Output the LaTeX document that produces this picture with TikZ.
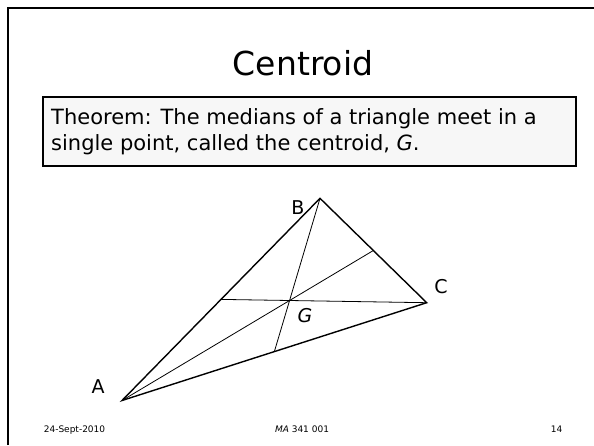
\documentclass[tikz,border=0pt]{standalone}
\usepackage{fontspec}
\setmainfont{DejaVu Sans}
\usetikzlibrary{calc}
\tikzset{
  side/.style={line width=1.4pt},
  median/.style={line width=0.8pt},
  lbl/.style={inner sep=0pt, font=\fontsize{19}{22}\selectfont},
  thm/.style={anchor=base west, inner sep=0pt, font=\fontsize{21}{24}\selectfont},
  foot/.style={inner sep=0pt, anchor=base, font=\fontsize{9}{11}\selectfont},
}
\begin{document}
\begin{tikzpicture}[x=1pt,y=-1pt]
\useasboundingbox (0,0) rectangle (594,445);
% slide frame
\draw[line width=2.5pt] (8,445) -- (8,8) -- (594,8);
% title
\node[inner sep=0pt, anchor=base, font=\fontsize{33}{38}\selectfont] (title) at (303,75) {Centroid};
% theorem box
\node[draw, line width=1.2pt, fill=black!3, minimum width=533pt, minimum height=69pt, inner sep=0pt] (box) at (309.5,131.5) {};
\node[thm] (l1) at (51,124) {Theorem: The medians of a triangle meet in a};
\node[thm] (l2) at (51,150) {single point, called the centroid, \textit{G}.};
% triangle
\coordinate (A) at (122,400.5);
\coordinate (B) at (320,198.3);
\coordinate (C) at (426.7,302.7);
\coordinate (Mab) at ($(A)!0.5!(B)$);
\coordinate (Mbc) at ($(B)!0.5!(C)$);
\coordinate (Mac) at ($(A)!0.5!(C)$);
\draw[side, line join=miter] (A) -- (B) -- (C) -- cycle;
\draw[median] (A) -- (Mbc);
\draw[median] (B) -- (Mac);
\draw[median] (C) -- (Mab);
\node[lbl] (la) at (98,387) {A};
\node[lbl] (lb) at (298,208) {B};
\node[lbl] (lc) at (441,287) {C};
\node[lbl] (lg) at (305,316) {\textit{G}};
% footer
\node[foot] (f1) at (74.5,432) {24-Sept-2010};
\node[foot] (f2) at (302,432) {\textit{MA} 341 001};
\node[foot] (f3) at (556.5,432) {14};
\end{tikzpicture}
\end{document}
